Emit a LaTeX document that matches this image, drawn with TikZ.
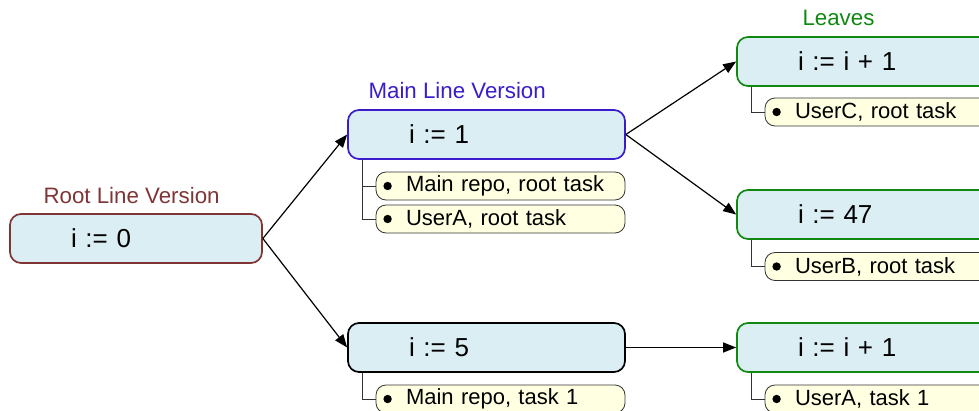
\documentclass[tikz,border=0pt]{standalone}
\usepackage{fontspec}
\setmainfont{Liberation Sans}
\usepackage{xcolor}
\usetikzlibrary{arrows.meta}
\definecolor{boxfill}{HTML}{DAEEF3}
\definecolor{notefill}{HTML}{FFFFE1}
\definecolor{rootcol}{HTML}{7F3535}
\definecolor{maincol}{HTML}{3A1CCC}
\definecolor{leafcol}{HTML}{118811}

\begin{document}
\begin{tikzpicture}[x=1pt,y=-1pt,
  version/.style={draw=#1, line width=1.7pt, fill=boxfill, rounded corners=11pt,
    minimum height=49pt, text width=155pt, inner xsep=61pt, align=left,
    font=\fontsize{26}{30}\selectfont},
  version/.default=black,
  note/.style={draw=black!80, line width=0.8pt, fill=notefill, rounded corners=10pt,
    minimum height=28pt, inner ysep=0pt, text width=189pt, inner xsep=30pt, align=left,
    execute at begin node=\hbox\bgroup, execute at end node=\egroup,
    font=\fontsize{22}{25}\selectfont},
  vlabel/.style={anchor=west, text=#1, font=\fontsize{22.3}{25}\selectfont},
  flow/.style={-{Triangle[length=13pt,width=10pt]}, line width=1.2pt},
  tie/.style={draw=black!80, line width=0.9pt}]
\useasboundingbox (0,0) rectangle (979,410);
\clip (0,0) rectangle (979,410);

% version boxes
\node[version=rootcol, text width=130pt] (root) at (136,238.5) {i := 0};
\node[version=maincol] (main) at (486.5,134.5) {i := 1};
\node[version] (task) at (486.5,347.5) {i := 5};
\node[version=leafcol] (leafc) at (875.5,61.5) {i := i + 1};
\node[version=leafcol] (leafb) at (875.5,214.5) {i := 47};
\node[version=leafcol] (leafa) at (875.5,347.5) {i := i + 1};

% titles
\node[vlabel=rootcol] (roottitle) at (40,196) {Root Line Version};
\node[vlabel=maincol] (maintitle) at (365,91) {Main Line Version};
\node[vlabel=leafcol] (leaftitle) at (799,18) {Leaves};

% notes
\node[note] (mainrepo) at (500.5,186) {Main repo, root task};
\node[note] (usera) at (500.5,219) {UserA, root task};
\node[note] (taskrepo) at (500.5,399) {Main repo, task 1};
\node[note] (userc) at (889.5,112) {UserC, root task};
\node[note] (userb) at (889.5,266.5) {UserB, root task};
\node[note] (useratask) at (889.5,399) {UserA, task 1};

\draw[tie] ([xshift=15pt]main.south west) |- (mainrepo.west);
\draw[tie] ([xshift=15pt]main.south west) |- (usera.west);
\draw[tie] ([xshift=15pt]task.south west) |- (taskrepo.west);
\draw[tie] ([xshift=15pt]leafc.south west) |- (userc.west);
\draw[tie] ([xshift=15pt]leafb.south west) |- (userb.west);
\draw[tie] ([xshift=15pt]leafa.south west) |- (useratask.west);
\foreach \n in {mainrepo,usera,taskrepo,userc,userb,useratask}
    \fill ([xshift=12pt]\n.west) circle (4.2pt);

% arrows
\draw[flow] (root.east) -- (main.west);
\draw[flow] (root.east) -- (task.west);
\draw[flow] (main.east) -- (leafc.west);
\draw[flow] (main.east) -- (leafb.west);
\draw[flow] (task.east) -- (leafa.west);
\end{tikzpicture}
\end{document}
